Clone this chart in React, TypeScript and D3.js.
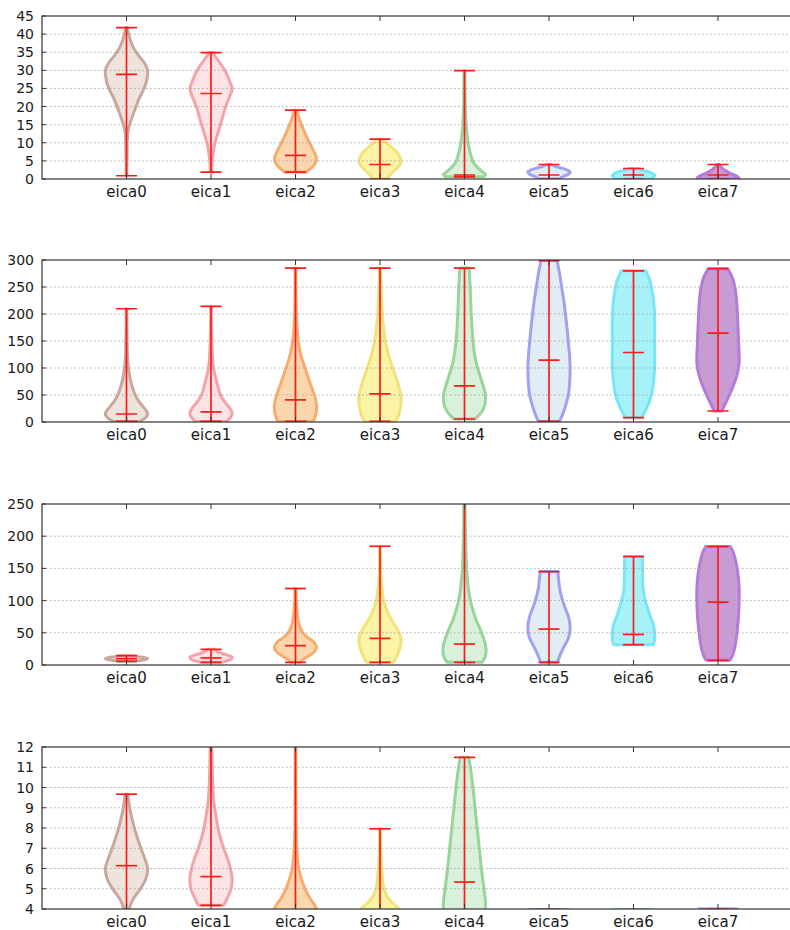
import React from "react";
import * as d3 from "d3";

const categories = ["eica0", "eica1", "eica2", "eica3", "eica4", "eica5", "eica6", "eica7"];
const strokeColors = ["#c9a89c", "#f5a3aa", "#f6ac6e", "#f1e27a", "#99d49b", "#9fa3ef", "#78e6f4", "#b77ad6"];
const fillColors = ["#eee4dd", "#fce4e6", "#fcd7ad", "#fbf4a6", "#d9f1da", "#e2ecf4", "#a6f2f8", "#c79bd3"];

// Panel 1
const p1Ticks = [0, 5, 10, 15, 20, 25, 30, 35, 40, 45];
const p1Max = [41.8, 34.9, 19, 11, 29.9, 4.0, 2.9, 4.0];
const p1Min = [0.9, 1.9, 1.9, 0, 0.6, 0, 0, 0];
const p1Median = [28.9, 23.6, 6.5, 4.0, 1.1, 1.1, 1.1, 1.1];
const p1Shapes = [
  [[41.8,0.03],[40,0.1],[38,0.2],[36,0.35],[34,0.58],[32,0.85],[30,1.0],[28,0.98],[26,0.9],[24,0.75],[22,0.58],[20,0.45],[18,0.32],[16,0.2],[14,0.1],[12,0.05],[8,0.03],[4,0.02],[0.9,0.02]],
  [[34.9,0.08],[33,0.3],[31,0.55],[29,0.74],[27,0.88],[25,1.0],[23,0.9],[21,0.76],[19,0.64],[17,0.55],[15,0.45],[13,0.34],[11,0.24],[9,0.15],[7,0.1],[5,0.06],[3,0.04],[1.9,0.03]],
  [[19,0.05],[17,0.15],[15,0.28],[13,0.42],[11,0.58],[9,0.75],[7,0.92],[5.5,1.0],[4,0.9],[3,0.74],[1.9,0.5]],
  [[11,0.1],[10,0.3],[9,0.5],[8,0.7],[7,0.85],[6,0.95],[5,1.0],[4,0.95],[3,0.8],[2,0.62],[1,0.45],[0,0.3]],
  [[29.9,0.02],[25,0.03],[20,0.04],[16,0.07],[13,0.11],[10,0.17],[8,0.24],[6,0.33],[4.5,0.43],[3,0.65],[2,0.85],[1.2,1.0],[0.6,0.9]],
  [[4,0.1],[3.5,0.3],[3,0.6],[2.5,0.85],[2,1.0],[1.5,0.95],[1,0.8],[0.5,0.6],[0,0.5]],
  [[2.9,0.2],[2.5,0.4],[2,0.7],[1.5,0.9],[1,1.0],[0.5,0.95],[0,0.85]],
  [[4,0.05],[3.5,0.1],[3,0.2],[2.5,0.3],[2,0.45],[1.5,0.6],[1,0.8],[0.5,0.95],[0,1.0]],
];

// Panel 2
const p2Ticks = [0, 50, 100, 150, 200, 250, 300];
const p2Max = [209.7, 214, 285, 285, 285, 299, 280, 284];
const p2Min = [1, 1, 1, 1, 5.6, 1, 8, 20.4];
const p2Median = [14.8, 18.6, 40.8, 52, 66.8, 114.4, 128.7, 164.5];
const p2Shapes = [
  [[209.7,0.02],[180,0.02],[150,0.03],[120,0.05],[100,0.09],[85,0.15],[70,0.24],[55,0.36],[40,0.55],[30,0.75],[20,0.95],[14,1.0],[8,0.9],[3,0.72],[1,0.62]],
  [[214,0.02],[180,0.02],[150,0.04],[120,0.07],[100,0.12],[85,0.2],[70,0.3],[55,0.4],[45,0.52],[35,0.7],[25,0.9],[17,1.0],[10,0.95],[4,0.82],[1,0.72]],
  [[285,0.02],[250,0.02],[200,0.04],[175,0.07],[150,0.13],[125,0.25],[100,0.45],[80,0.62],[60,0.8],[45,0.93],[30,1.0],[15,0.97],[5,0.88],[1,0.82]],
  [[285,0.02],[250,0.05],[225,0.08],[200,0.11],[175,0.17],[150,0.25],[125,0.4],[100,0.6],[80,0.78],[60,0.93],[45,1.0],[30,0.98],[15,0.9],[5,0.8],[1,0.72]],
  [[285,0.22],[270,0.24],[250,0.27],[200,0.32],[150,0.4],[120,0.5],[100,0.62],[85,0.74],[70,0.86],[55,0.97],[45,1.0],[30,0.95],[18,0.8],[10,0.62],[5.6,0.5]],
  [[299,0.38],[275,0.5],[250,0.6],[225,0.7],[200,0.78],[175,0.85],[150,0.91],[125,0.97],[100,1.0],[75,0.98],[50,0.92],[35,0.82],[20,0.7],[8,0.58],[1,0.5]],
  [[280,0.58],[265,0.75],[250,0.85],[225,0.95],[200,1.0],[150,1.0],[100,1.0],[75,0.95],[50,0.85],[35,0.72],[20,0.55],[8,0.38]],
  [[284,0.45],[270,0.65],[250,0.8],[225,0.88],[200,0.92],[150,0.97],[110,1.0],[90,0.92],[75,0.8],[60,0.65],[45,0.48],[30,0.3],[20.4,0.18]],
];

// Panel 3
const p3Ticks = [0, 50, 100, 150, 200, 250];
const p3Max = [14.5, 24.3, 118.8, 184.4, 290, 145, 168.4, 183.9];
const p3Min = [5.7, 4.1, 4.1, 4.1, 4.1, 4.1, 31.5, 7.2];
const p3Median = [9.8, 11, 30, 41.3, 32.5, 55.8, 47.5, 97.6];
const p3Shapes = [
  [[14.5,0.3],[13,0.55],[11,0.9],[10,1.0],[8.5,0.9],[7,0.6],[5.7,0.35]],
  [[24.3,0.15],[20,0.35],[16,0.7],[12,1.0],[9,0.95],[6,0.7],[4.1,0.5]],
  [[118.8,0.02],[100,0.04],[85,0.07],[70,0.12],[60,0.2],[50,0.35],[42,0.6],[35,0.88],[28,1.0],[20,0.88],[14,0.62],[8,0.35],[4.1,0.2]],
  [[184.4,0.02],[150,0.03],[125,0.07],[100,0.17],[85,0.32],[70,0.55],[58,0.78],[45,0.97],[38,1.0],[28,0.96],[15,0.82],[4.1,0.65]],
  [[290,0.02],[250,0.03],[200,0.05],[150,0.1],[120,0.18],[100,0.28],[85,0.4],[70,0.55],[55,0.75],[42,0.9],[30,1.0],[15,1.0],[8,0.9],[4.1,0.82]],
  [[145,0.42],[135,0.45],[120,0.5],[105,0.6],[90,0.75],[75,0.92],[60,1.0],[45,0.95],[35,0.82],[25,0.66],[15,0.52],[4.1,0.4]],
  [[168.4,0.42],[140,0.43],[120,0.45],[105,0.52],[90,0.65],[75,0.8],[62,0.95],[50,1.0],[40,1.0],[31.5,0.95]],
  [[183.9,0.58],[175,0.72],[160,0.85],[140,0.95],[120,1.0],[100,1.0],[80,0.98],[60,0.93],[40,0.86],[25,0.78],[12,0.65],[7.2,0.55]],
];

// Panel 4
const p4Ticks = [4, 5, 6, 7, 8, 9, 10, 11, 12];
const p4Max = [9.67, 14, 14, 7.96, 11.49, 3.98, 3.97, 4.0];
const p4Min = [3.5, 4.18, 2, 2, 3, 0.5, 0.5, 0.5];
const p4Median = [6.14, 5.6, 3, 3.3, 5.33, 1.2, 1.2, 1.2];
const p4Shapes = [
  [[9.67,0.06],[9,0.15],[8.5,0.25],[8,0.37],[7.5,0.52],[7,0.68],[6.5,0.86],[6,1.0],[5.5,0.92],[5,0.66],[4.5,0.32],[4,0.12],[3.5,0.05]],
  [[14,0.02],[12,0.04],[10.5,0.07],[9.5,0.12],[9,0.17],[8.5,0.25],[8,0.33],[7.5,0.45],[7,0.6],[6.5,0.78],[6,0.92],[5.5,1.0],[5,0.95],[4.6,0.8],[4.18,0.6]],
  [[14,0.01],[10,0.02],[8,0.03],[7,0.06],[6.5,0.1],[6,0.15],[5.5,0.28],[5,0.45],[4.5,0.7],[4,1.0],[3,1.0],[2,0.8]],
  [[7.96,0.02],[7,0.03],[6.5,0.05],[6,0.08],[5.5,0.12],[5,0.18],[4.6,0.35],[4.3,0.6],[4,0.9],[3.5,1.0],[2.5,0.8],[2,0.6]],
  [[11.49,0.2],[11,0.28],[10,0.4],[9,0.5],[8,0.6],[7,0.7],[6,0.8],[5,0.92],[4.3,1.0],[3.5,0.95],[3,0.85]],
  [[3.98,0.9],[3,1.0],[0.5,0.8]],
  [[3.97,0.9],[3,1.0],[0.5,0.8]],
  [[4.0,0.9],[3,1.0],[0.5,0.8]],
];

const FONT = "'DejaVu Sans', sans-serif";

type PanelProps = {
  id: string;
  top: number;
  bottom: number;
  ticks: number[];
  maxs: number[];
  mins: number[];
  meds: number[];
  shapes: number[][][];
};

function Panel({ id, top, bottom, ticks, maxs, mins, meds, shapes }: PanelProps) {
  const x = d3.scaleLinear().domain([0, 9]).range([42, 42 + 9 * 84.5]);
  const y = d3.scaleLinear().domain([ticks[0], ticks[ticks.length - 1]]).range([bottom, top]);
  const hw = x(0.25) - x(0);
  const bw = x(0.125) - x(0);
  const left = x(0);
  const right = x(9);
  return (
    <g>
      <defs>
        <clipPath id={id}>
          <rect x={left} y={top} width={right - left} height={bottom - top} />
        </clipPath>
      </defs>
      <g clipPath={`url(#${id})`}>
        {shapes.map((s, i) => {
          const c = x(i + 1);
          const area = d3
            .area<number[]>()
            .y((d) => y(d[0]))
            .x0((d) => c - d[1] * hw)
            .x1((d) => c + d[1] * hw)
            .curve(d3.curveCatmullRom);
          return (
            <path
              key={i}
              d={area(s) || ""}
              fill={fillColors[i]}
              stroke={strokeColors[i]}
              strokeWidth={3}
              strokeLinejoin="round"
            />
          );
        })}
        {ticks.slice(1, -1).map((t) => (
          <line key={t} x1={left} x2={right} y1={y(t)} y2={y(t)} stroke="#a8a8a8" strokeWidth={1} strokeDasharray="1.5 2.5" />
        ))}
        {categories.map((_, i) => {
          const c = x(i + 1);
          return (
            <g key={i} stroke="#ff1a1a" strokeWidth={1.7}>
              <line x1={c} x2={c} y1={y(mins[i])} y2={y(maxs[i])} />
              <line x1={c - bw} x2={c + bw} y1={y(maxs[i])} y2={y(maxs[i])} />
              <line x1={c - bw} x2={c + bw} y1={y(mins[i])} y2={y(mins[i])} />
              <line x1={c - bw} x2={c + bw} y1={y(meds[i])} y2={y(meds[i])} />
            </g>
          );
        })}
      </g>
      {categories.map((_, i) => (
        <g key={i} stroke="#333" strokeWidth={1}>
          <line x1={x(i + 1)} x2={x(i + 1)} y1={top} y2={top + 5} />
          <line x1={x(i + 1)} x2={x(i + 1)} y1={bottom} y2={bottom - 5} />
        </g>
      ))}
      {ticks.map((t) => (
        <line key={t} x1={left} x2={left + 4} y1={y(t)} y2={y(t)} stroke="#333" />
      ))}
      <rect x={left} y={top} width={right - left} height={bottom - top} fill="none" stroke="#333" strokeWidth={1.2} />
      {ticks.map((t) => (
        <text key={t} x={34} y={y(t)} dy="0.36em" textAnchor="end" fontFamily={FONT} fontSize={14} fill="#1a1a1a">
          {t}
        </text>
      ))}
      {categories.map((c, i) => (
        <text key={c} x={x(i + 1)} y={bottom + 18} textAnchor="middle" fontFamily={FONT} fontSize={15} fill="#1a1a1a">
          {c}
        </text>
      ))}
    </g>
  );
}

export default function App() {
  return (
    <svg width={790} height={930} style={{ position: "absolute", left: 0, top: 0, background: "#fff" }}>
      <rect width={790} height={930} fill="#fff" />
      <Panel id="c1" top={16} bottom={179} ticks={p1Ticks} maxs={p1Max} mins={p1Min} meds={p1Median} shapes={p1Shapes} />
      <Panel id="c2" top={260} bottom={422} ticks={p2Ticks} maxs={p2Max} mins={p2Min} meds={p2Median} shapes={p2Shapes} />
      <Panel id="c3" top={504} bottom={665} ticks={p3Ticks} maxs={p3Max} mins={p3Min} meds={p3Median} shapes={p3Shapes} />
      <Panel id="c4" top={747} bottom={909} ticks={p4Ticks} maxs={p4Max} mins={p4Min} meds={p4Median} shapes={p4Shapes} />
    </svg>
  );
}
